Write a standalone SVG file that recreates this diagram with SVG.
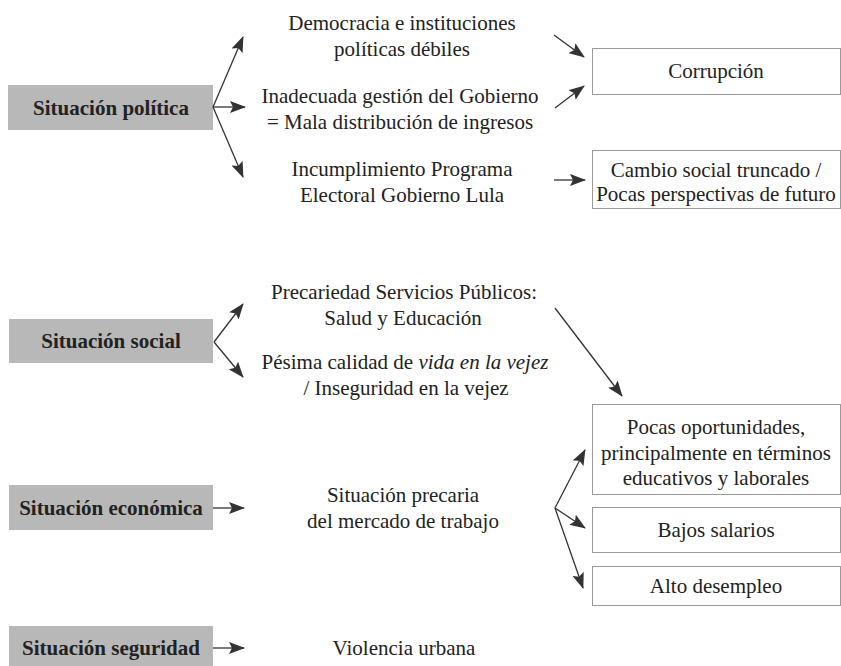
<svg xmlns="http://www.w3.org/2000/svg" width="841" height="666" viewBox="0 0 841 666" font-family="'Liberation Serif', 'DejaVu Serif', serif">
<defs>
<style>
text{font-family:'Liberation Serif','DejaVu Serif',serif;font-size:21px;fill:#222;text-anchor:middle}
.b{font-weight:bold}
.cat{fill:#b8b8b8;stroke:none}
.box{fill:#fff;stroke:#9a9a9a;stroke-width:1}
.con line{stroke:#333;stroke-width:1.3;fill:none}
</style>
<marker id="ah" markerUnits="userSpaceOnUse" markerWidth="16" markerHeight="12" refX="15" refY="6" orient="auto">
<path d="M0,0 L16,6 L0,12 L3,6 z" fill="#333"/>
</marker>
</defs>
<rect width="841" height="666" fill="#fff"/>

<g id="n-politica"><rect class="cat" x="8" y="85" width="205" height="45"/><text class="b" x="111" y="115">Situación política</text></g>
<g id="n-democracia"><text x="402" y="30">Democracia e instituciones</text><text x="402" y="56">políticas débiles</text></g>
<g id="n-gestion"><text x="400" y="103">Inadecuada gestión del Gobierno</text><text x="400" y="129">= Mala distribución de ingresos</text></g>
<g id="n-incumplimiento"><text x="402" y="176">Incumplimiento Programa</text><text x="402" y="202">Electoral Gobierno Lula</text></g>
<g id="n-corrupcion"><rect class="box" x="592.5" y="48.5" width="248" height="46"/><text x="716" y="78">Corrupción</text></g>
<g id="n-cambio"><rect class="box" x="592.5" y="150.5" width="248" height="58"/><text x="716" y="177">Cambio social truncado /</text><text x="716" y="201">Pocas perspectivas de futuro</text></g>

<g id="n-social"><rect class="cat" x="9" y="319" width="204" height="44"/><text class="b" x="111" y="348">Situación social</text></g>
<g id="n-precariedad"><text x="404" y="299">Precariedad Servicios Públicos:</text><text x="403" y="325">Salud y Educación</text></g>
<g id="n-pesima"><text x="405" y="369">Pésima calidad de <tspan font-style="italic">vida en la vejez</tspan></text><text x="406" y="395">/ Inseguridad en la vejez</text></g>
<g id="n-oportunidades"><rect class="box" x="592.5" y="404.5" width="248" height="90"/><text x="716" y="434">Pocas oportunidades,</text><text x="716" y="460">principalmente en términos</text><text x="716" y="485">educativos y laborales</text></g>

<g id="n-economica"><rect class="cat" x="9" y="485" width="204" height="45"/><text class="b" x="111" y="515">Situación económica</text></g>
<g id="n-mercado"><text x="403" y="502">Situación precaria</text><text x="403" y="528">del mercado de trabajo</text></g>
<g id="n-salarios"><rect class="box" x="592.5" y="507.5" width="248" height="45"/><text x="716" y="537">Bajos salarios</text></g>
<g id="n-desempleo"><rect class="box" x="592.5" y="566.5" width="248" height="39"/><text x="716" y="593">Alto desempleo</text></g>

<g id="n-seguridad"><rect class="cat" x="9" y="626" width="204" height="42"/><text class="b" x="111" y="655">Situación seguridad</text></g>
<g id="n-violencia"><text x="404" y="655">Violencia urbana</text></g>

<g id="connectors" class="con">
<line x1="213" y1="107" x2="243" y2="37" marker-end="url(#ah)"/>
<line x1="213" y1="107" x2="245" y2="107" marker-end="url(#ah)"/>
<line x1="213" y1="107" x2="243" y2="177" marker-end="url(#ah)"/>
<line x1="554" y1="35" x2="584" y2="57" marker-end="url(#ah)"/>
<line x1="555" y1="108" x2="584" y2="86" marker-end="url(#ah)"/>
<line x1="554" y1="180" x2="585" y2="180" marker-end="url(#ah)"/>
<line x1="214" y1="342" x2="243" y2="304" marker-end="url(#ah)"/>
<line x1="214" y1="342" x2="243" y2="377" marker-end="url(#ah)"/>
<line x1="555" y1="308" x2="622" y2="396" marker-end="url(#ah)"/>
<line x1="213" y1="508" x2="244" y2="508" marker-end="url(#ah)"/>
<line x1="555" y1="508" x2="585" y2="450" marker-end="url(#ah)"/>
<line x1="555" y1="508" x2="585" y2="528" marker-end="url(#ah)"/>
<line x1="555" y1="508" x2="583" y2="588" marker-end="url(#ah)"/>
<line x1="213" y1="648" x2="244" y2="648" marker-end="url(#ah)"/>
</g>
</svg>
